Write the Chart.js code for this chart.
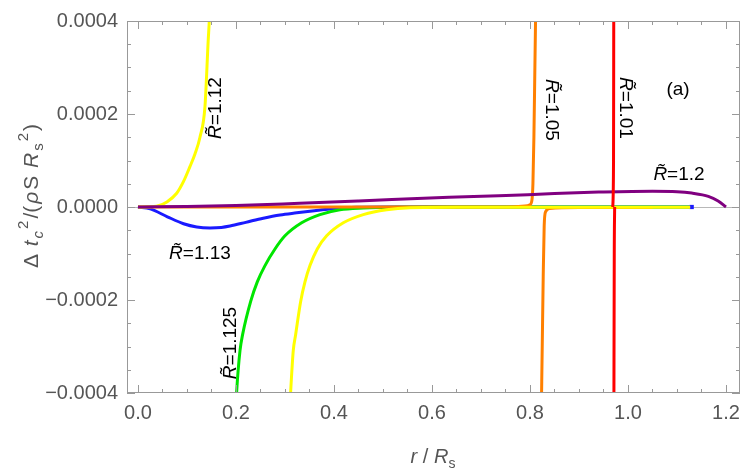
<!DOCTYPE html>
<html>
<head>
<meta charset="utf-8">
<script src="https://cdn.jsdelivr.net/npm/chart.js@4"></script>
<style>
  body { margin: 0; background: #fff; }
  canvas { display: block; }
</style>
</head>
<body>
<canvas id="c" width="750" height="473"></canvas>
<script>
// axis ticks
const xTicks = [0, 0.2, 0.4, 0.6, 0.8, 1.0, 1.2];
const yTicks = [-0.0004, -0.0002, 0, 0.0002, 0.0004];

// R~ = 1.12, left branch (rises to +inf)
const rY1 = [0, 0.02, 0.038, 0.059, 0.079, 0.093, 0.106, 0.1163, 0.1265, 0.1367, 0.1435, 0.1455, 0.147];
const vY1 = [0, 0.0000003, 0.0000015, 0.000011, 0.0000296, 0.000055, 0.0000868, 0.000114, 0.00015, 0.000216, 0.000362, 0.0004, 0.00045];
// yellow right branch (comes up from -inf)
const rY2 = [0.309, 0.3116, 0.3169, 0.3218, 0.332, 0.3408, 0.351, 0.3659, 0.385, 0.419, 0.4598, 0.5076, 0.555, 0.65, 0.8, 1.0, 1.127];
const vY2 = [-0.00045, -0.000397, -0.000309, -0.000274, -0.000203, -0.000161, -0.000126, -0.0000903, -0.000062, -0.0000339, -0.0000163, -0.0000057, -0.0000015, -0.0000005, -0.0000005, -0.0000005, -0.0000005];

// R~ = 1.125
const rG = [0.199, 0.2014, 0.2082, 0.2136, 0.23, 0.2435, 0.2592, 0.2796, 0.3, 0.334, 0.3714, 0.412, 0.46, 0.5, 0.6, 0.8, 1.125];
const vG = [-0.00045, -0.000397, -0.000309, -0.000274, -0.000203, -0.000161, -0.000126, -0.0000903, -0.000062, -0.0000339, -0.0000163, -0.0000057, -0.000002, -0.000001, 0, 0, 0];

// R~ = 1.13
const rB = [0, 0.025, 0.06, 0.093, 0.12, 0.147, 0.17, 0.1878, 0.22, 0.2557, 0.29, 0.324, 0.36, 0.392, 0.42, 0.446, 0.5, 0.7, 0.9, 1.13];
const vB = [0, -0.000004, -0.000021, -0.000036, -0.000043, -0.000045, -0.000044, -0.000041, -0.000033, -0.000024, -0.000017, -0.0000125, -0.000008, -0.0000042, -0.000002, -0.0000006, 0, 0, 0, 0];

// R~ = 1.2
const rP = [0, 0.1, 0.2, 0.33, 0.45, 0.635, 0.736, 0.85, 0.94, 1.05, 1.1, 1.13, 1.164, 1.184, 1.2];
const vP = [0, 0.000001, 0.000003, 0.000008, 0.000013, 0.000021, 0.000024, 0.000029, 0.000032, 0.000034, 0.000033, 0.00003, 0.000023, 0.000013, 0];

// R~ = 1.05, two branches
const rO1 = [0, 0.2, 0.4, 0.6, 0.75, 0.79, 0.8, 0.804, 0.806, 0.808, 0.81, 0.812];
const vO1 = [0, 0, 0, 0, 0, 0.000002, 0.000005, 0.000015, 0.00005, 0.00015, 0.0003, 0.00045];
const rO2 = [0.823, 0.825, 0.827, 0.829, 0.832, 0.84, 0.9, 1.0, 1.05];
const vO2 = [-0.00045, -0.0003, -0.00015, -0.00004, -0.00001, -0.000003, -0.000001, -0.000001, -0.000001];

// R~ = 1.01, two branches (only the jump is visible)
const rR1 = [0.969, 0.9705, 0.971];
const vR1 = [0, 0.0001, 0.00045];
const rR2 = [0.9712, 0.972, 0.9728];
const vR2 = [-0.00045, -0.0001, 0];

const FONT = '"Liberation Sans", Arial, Helvetica, sans-serif';

function pts(r, v) {
  return r.map((x, i) => ({ x: x, y: v[i] }));
}

function series(label, r, v, color) {
  return {
    label: label,
    data: pts(r, v),
    borderColor: color,
    backgroundColor: color,
    borderWidth: 3,
    pointRadius: 0,
    cubicInterpolationMode: 'monotone',
    clip: 0
  };
}

const blue = series('R=1.13', rB, vB, '#1a1aff');
blue.pointRadius = ctx => ctx.dataIndex === rB.length - 1 ? 3 : 0;
blue.pointStyle = 'rect';
blue.pointBorderWidth = 0;

// first dataset is painted on top
const datasets = [
  series('R=1.01', rR1, vR1, '#ff0000'),
  series('R=1.01 b', rR2, vR2, '#ff0000'),
  series('R=1.2', rP, vP, '#800080'),
  series('R=1.12', rY1, vY1, '#ffff00'),
  series('R=1.12 b', rY2, vY2, '#ffff00'),
  series('R=1.05', rO1, vO1, '#ff8000'),
  series('R=1.05 b', rO2, vO2, '#ff8000'),
  series('R=1.125', rG, vG, '#00e600'),
  blue
];

// rich text: segments [text, italic, scale, dyEm]
function rich(ctx, x, y, segs, size, angle, color, gap) {
  gap = gap || 0;
  ctx.save();
  ctx.translate(x, y);
  ctx.rotate(angle);
  ctx.fillStyle = color;
  ctx.textBaseline = 'alphabetic';
  let total = 0;
  const widths = segs.map(s => {
    ctx.font = (s[1] ? 'italic ' : '') + Math.round(size * (s[2] || 1)) + 'px ' + FONT;
    const w = ctx.measureText(s[0]).width;
    total += w;
    return w;
  });
  total += gap * (segs.length - 1);
  let cx = -total / 2;
  segs.forEach((s, i) => {
    ctx.font = (s[1] ? 'italic ' : '') + Math.round(size * (s[2] || 1)) + 'px ' + FONT;
    ctx.fillText(s[0], cx, size * 0.36 + (s[3] || 0) * size);
    cx += widths[i] + gap;
  });
  ctx.restore();
}

function rLabel(ctx, x, y, val, angle) {
  rich(ctx, x, y, [['R\u0303', true], ['=' + val, false]], 19, angle, '#000');
}

const decor = {
  id: 'decor',
  beforeDatasetsDraw(chart) {
    const { ctx, chartArea: a, scales } = chart;
    const y0 = scales.y.getPixelForValue(0);
    ctx.save();
    ctx.strokeStyle = '#b8b8b8';
    ctx.lineWidth = 1;
    ctx.beginPath();
    ctx.moveTo(a.left, Math.round(y0) + 0.5);
    ctx.lineTo(a.right, Math.round(y0) + 0.5);
    ctx.stroke();
    ctx.restore();
  },
  afterDatasetsDraw(chart) {
    const { ctx, chartArea: a, scales } = chart;
    const xs = scales.x, ys = scales.y;
    ctx.save();
    ctx.strokeStyle = '#999';
    ctx.lineWidth = 1;
    ctx.strokeRect(a.left + 0.5, a.top + 0.5, a.right - a.left - 1, a.bottom - a.top - 1);
    ctx.beginPath();
    for (let k = 0; k <= 24; k++) {
      const v = k * 0.05;
      const len = k % 4 === 0 ? 8 : 4;
      const px = Math.round(xs.getPixelForValue(v)) + 0.5;
      ctx.moveTo(px, a.bottom); ctx.lineTo(px, a.bottom - len);
      ctx.moveTo(px, a.top); ctx.lineTo(px, a.top + len);
    }
    for (let k = -8; k <= 8; k++) {
      const v = k * 0.00005;
      const len = k % 4 === 0 ? 8 : 4;
      const py = Math.round(ys.getPixelForValue(v)) + 0.5;
      ctx.moveTo(a.left, py); ctx.lineTo(a.left + len, py);
      ctx.moveTo(a.right, py); ctx.lineTo(a.right - len, py);
    }
    ctx.stroke();
    ctx.restore();

    // curve labels
    rLabel(ctx, 214, 108, '1.12', -Math.PI / 2);
    rLabel(ctx, 553, 110, '1.05', Math.PI / 2);
    rLabel(ctx, 627, 108, '1.01', Math.PI / 2);
    rLabel(ctx, 679, 173, '1.2', 0);
    rLabel(ctx, 200, 252, '1.13', 0);
    rLabel(ctx, 229, 343, '1.125', -Math.PI / 2);
    rich(ctx, 678, 88, [['(a)', false]], 19, 0, '#000');

    // axis titles
    rich(ctx, 30, 196, [
      ['\u0394 ', false], ['t', true], ['c', true, 0.7, 0.25], ['2', false, 0.7, -0.45],
      ['/(', false], ['\u03c1', true], ['S ', false], ['R', true],
      ['s', false, 0.7, 0.25], ['2', false, 0.7, -0.45], [')', false]
    ], 21, -Math.PI / 2, '#555', 2);
    rich(ctx, 433, 456, [
      ['r', true], [' / ', false], ['R', true], ['s', false, 0.7, 0.25]
    ], 20, 0, '#555');
  }
};

new Chart(document.getElementById('c'), {
  type: 'line',
  data: { datasets: datasets },
  options: {
    responsive: false,
    animation: false,
    layout: { padding: { top: 15, right: 10, left: 0, bottom: 0 } },
    plugins: { legend: { display: false }, tooltip: { enabled: false } },
    scales: {
      x: {
        type: 'linear',
        min: -0.0224,
        max: 1.2286,
        afterBuildTicks: s => { s.ticks = xTicks.map(v => ({ value: v })); },
        afterFit: s => { s.height = 80; },
        grid: { display: false, drawTicks: false },
        border: { display: false },
        ticks: {
          autoSkip: false,
          maxRotation: 0,
          padding: 8,
          color: '#555',
          font: { family: FONT, size: 20 },
          callback: v => v.toFixed(1)
        }
      },
      y: {
        type: 'linear',
        min: -0.0004,
        max: 0.0004,
        afterBuildTicks: s => { s.ticks = yTicks.map(v => ({ value: v })); },
        afterFit: s => { s.width = 127; },
        grid: { display: false, drawTicks: false },
        border: { display: false },
        ticks: {
          padding: 9,
          color: '#555',
          font: { family: FONT, size: 20 },
          callback: v => Math.abs(v) < 1e-12 ? '0.0000' : (v < 0 ? '\u2212' : '') + Math.abs(v).toFixed(4)
        }
      }
    }
  },
  plugins: [decor]
});
</script>
</body>
</html>
